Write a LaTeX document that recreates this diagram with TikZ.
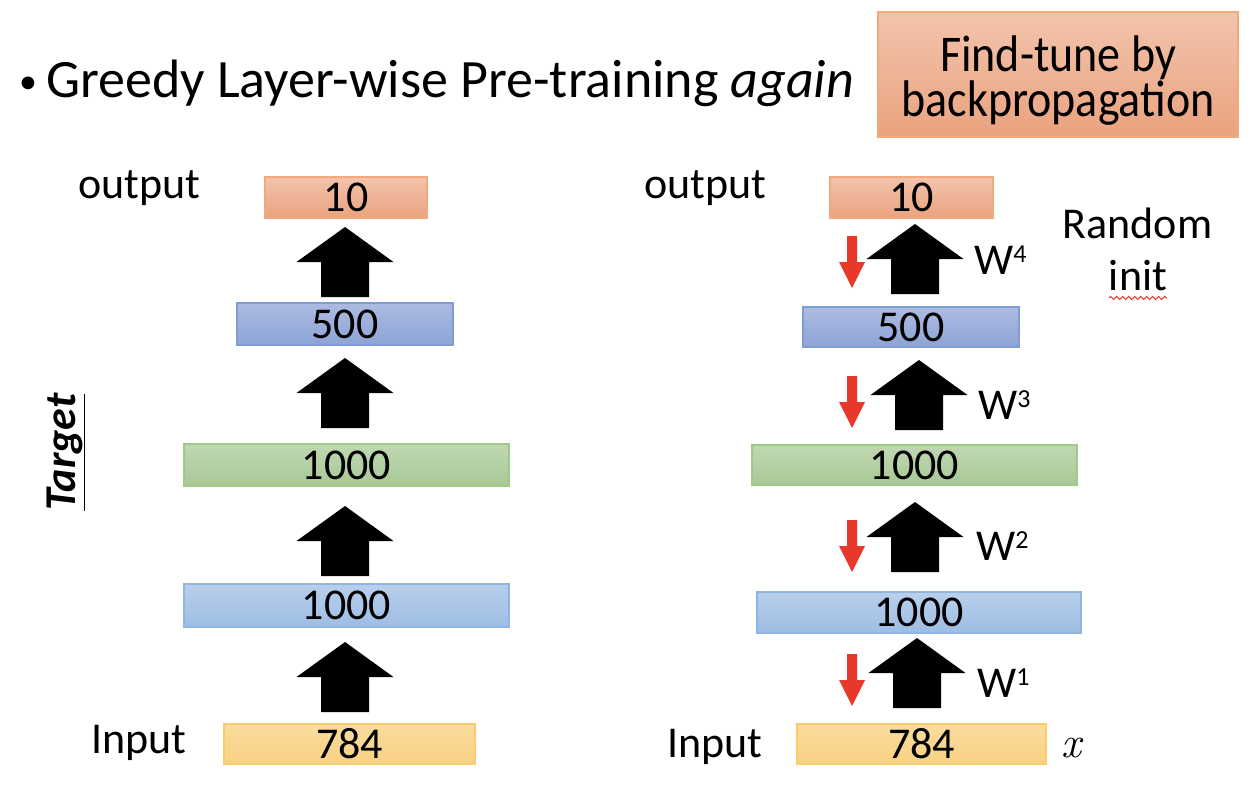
\documentclass[tikz,border=0pt]{standalone}
\usepackage{fontspec}
\setmainfont{Carlito}
\newfontfamily\lmfont{Latin Modern Roman}
\usetikzlibrary{calc,decorations.pathmorphing}

\definecolor{orgTop}{HTML}{F2C4AC}
\definecolor{orgBot}{HTML}{EAA27F}
\definecolor{orgLine}{HTML}{F3A97E}
\definecolor{bluTop}{HTML}{ACBBE1}
\definecolor{bluBot}{HTML}{8DA4D6}
\definecolor{bluLine}{HTML}{7E9DD2}
\definecolor{grnTop}{HTML}{BFD8B2}
\definecolor{grnBot}{HTML}{A8C796}
\definecolor{grnLine}{HTML}{9DCA86}
\definecolor{lbTop}{HTML}{B9CFEC}
\definecolor{lbBot}{HTML}{9DBDE3}
\definecolor{lbLine}{HTML}{8FB5E3}
\definecolor{ylwTop}{HTML}{FADC9C}
\definecolor{ylwBot}{HTML}{F8D184}
\definecolor{ylwLine}{HTML}{FDCB6C}
\definecolor{backRed}{HTML}{E8382A}

\tikzset{
  layer/.style={draw, line width=1.2pt, inner sep=0pt,
    font=\fontsize{44}{44}\selectfont, minimum height=41pt},
  orangeL/.style={layer, draw=orgLine, top color=orgTop, bottom color=orgBot},
  blueL/.style={layer, draw=bluLine, top color=bluTop, bottom color=bluBot},
  greenL/.style={layer, draw=grnLine, top color=grnTop, bottom color=grnBot},
  lblueL/.style={layer, draw=lbLine, top color=lbTop, bottom color=lbBot},
  yellowL/.style={layer, draw=ylwLine, top color=ylwTop, bottom color=ylwBot},
  lbl/.style={inner sep=0pt, font=\fontsize{44}{44}\selectfont},
  % black block arrow, tip at the pic origin, pointing up
  uparrow/.pic={\fill[black] (0,0) -- (48.5,35) -- (24,35) -- (24,70)
      -- (-24,70) -- (-24,35) -- (-48.5,35) -- cycle;},
  % small red arrow, tip at the pic origin, pointing down
  downarrow/.pic={\fill[backRed] (0,0) -- (13,-26) -- (5,-26) -- (5,-52)
      -- (-5,-52) -- (-5,-26) -- (-13,-26) -- cycle;},
}

\newcommand{\wlabel}[1]{W\raisebox{12pt}{\fontsize{26}{26}\selectfont #1}}

\begin{document}
\begin{tikzpicture}[x=1pt,y=-1pt]
\useasboundingbox[fill=white] (0,0) rectangle (1250,788);

% heading
\node[lbl, font=\fontsize{36}{36}\selectfont, anchor=base west] (bullet) at (19,93) {•};
\node[lbl, font=\fontsize{54}{54}\selectfont, anchor=base west] (title) at (46,97)
  {Greedy Layer-wise Pre-training \textit{again}};

\node[draw=orgLine, line width=1.2pt, top color=orgTop, bottom color=orgBot,
  minimum width=360pt, minimum height=125pt, inner sep=0pt] (finetune) at (1058,74.5) {};
\node[inner sep=0pt, align=center, yscale=1.12, transform shape,
  font=\fontsize{46}{40}\selectfont] (fttext) at (1058,80.5)
  {Find-tune by\\backpropagation};

% left stack
\node[orangeL, minimum width=162pt] (L10)  at (346,197.5) {10};
\node[blueL,   minimum width=216pt, minimum height=42pt] (L500) at (345,324) {500};
\node[greenL,  minimum width=325pt, minimum height=42pt] (L1000g) at (346.5,465) {1000};
\node[lblueL,  minimum width=325pt, minimum height=43pt] (L1000b) at (346.5,605.5) {1000};
\node[yellowL, minimum width=251pt, minimum height=40pt] (L784) at (349.5,744) {784};

\pic (LA4) at (345,227) {uparrow};
\pic (LA3) at (345,358) {uparrow};
\pic (LA2) at (345,506) {uparrow};
\pic (LA1) at (345,642) {uparrow};

\node[lbl, anchor=base west] (Lout) at (78,198) {output};
\node[lbl, anchor=base west] (Lin) at (91,753) {Input};
\node[lbl, rotate=90, font=\fontsize{44}{44}\selectfont\bfseries\itshape]
  (target) at (66,452) {\underline{Target}};

% right stack
\node[orangeL, minimum width=163pt] (R10)  at (911.5,197.5) {10};
\node[blueL,   minimum width=216pt, minimum height=40pt] (R500) at (911,327) {500};
\node[greenL,  minimum width=325pt, minimum height=40pt] (R1000g) at (914.5,465) {1000};
\node[lblueL,  minimum width=324pt, minimum height=41pt] (R1000b) at (919,612.5) {1000};
\node[yellowL, minimum width=249pt, minimum height=40pt] (R784) at (921.5,744) {784};

\pic (RA4) at (915,224) {uparrow};
\pic (RA3) at (919,360) {uparrow};
\pic (RA2) at (915,502) {uparrow};
\pic (RA1) at (917,638) {uparrow};

\pic (RB4) at (852,288) {downarrow};
\pic (RB3) at (852,428) {downarrow};
\pic (RB2) at (852,572) {downarrow};
\pic (RB1) at (852,706) {downarrow};

\node[lbl, anchor=base west] (W4) at (974,274) {\wlabel{4}};
\node[lbl, anchor=base west] (W3) at (978,419) {\wlabel{3}};
\node[lbl, anchor=base west] (W2) at (976,560) {\wlabel{2}};
\node[lbl, anchor=base west] (W1) at (977,697) {\wlabel{1}};

\node[lbl, anchor=base west] (Rout) at (644,198) {output};
\node[lbl, anchor=base west] (Rin) at (667,757) {Input};
\node[lbl, anchor=base west] (xin) at (1061,757) {\lmfont\itshape x};

\node[lbl, anchor=base] (rand) at (1137.5,238) {Random};
\node[lbl, anchor=base] (init) at (1138,290) {init};
\draw[backRed, line width=1pt, decorate,
  decoration={snake, amplitude=1.6pt, segment length=6pt}]
  ([yshift=-8pt]init.base west) -- ([yshift=-8pt]init.base east);
\end{tikzpicture}
\end{document}
